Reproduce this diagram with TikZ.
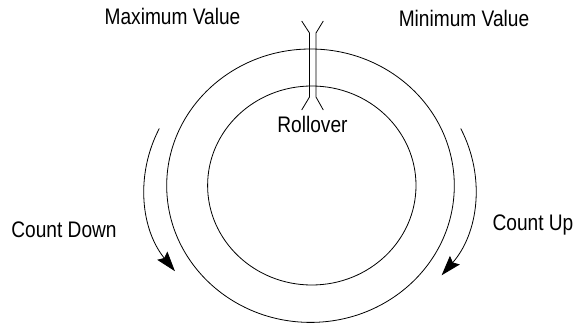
\documentclass[tikz,border=0pt]{standalone}
\usepackage{fontspec}
\setmainfont{Liberation Sans}[FakeStretch=0.85]
\usepackage{tikz}
\usetikzlibrary{arrows.meta}

\tikzset{
    ring/.style={line width=0.8pt, black},
    countarrow/.style={line width=0.8pt, -{Stealth[length=20pt, width=13pt, inset=3pt]}},
    caption/.style={anchor=base, inner sep=0pt, font=\fontsize{22.5}{26}\selectfont}
}

\begin{document}
\begin{tikzpicture}[x=1pt, y=1pt]
    \useasboundingbox (0,0) rectangle (574,325);

    % Outer and inner rings
    \draw[ring] (310.5,139.3) ellipse [x radius=143.8, y radius=136.7];
    \draw[ring] (311.8,139.5) ellipse [x radius=104.2, y radius=99.5];

    % Rollover gap with flared ends
    \draw[ring] (301.7,304) -- (309.5,292) -- (309.5,228) -- (301.7,215);
    \draw[ring] (323.3,304) -- (316,292) -- (316,228) -- (323.3,215);

    % Counting direction arrows
    \draw[countarrow] (310,137) ++(155.6:165.5 and 144)
        arc [start angle=155.6, end angle=215.3, x radius=165.5, y radius=144];
    \draw[countarrow] (310,137) ++(24.4:165.5 and 144)
        arc [start angle=24.4, end angle=-37.3, x radius=165.5, y radius=144];

    % Labels
    \node[caption] (maxval) at (172.5,301) {Maximum Value};
    \node[caption] (minval) at (464,298.3) {Minimum Value};
    \node[caption] (rollover) at (312.5,193) {Rollover};
    \node[caption] (countdown) at (64,87.3) {Count Down};
    \node[caption] (countup) at (533,95) {Count Up};
\end{tikzpicture}
\end{document}
